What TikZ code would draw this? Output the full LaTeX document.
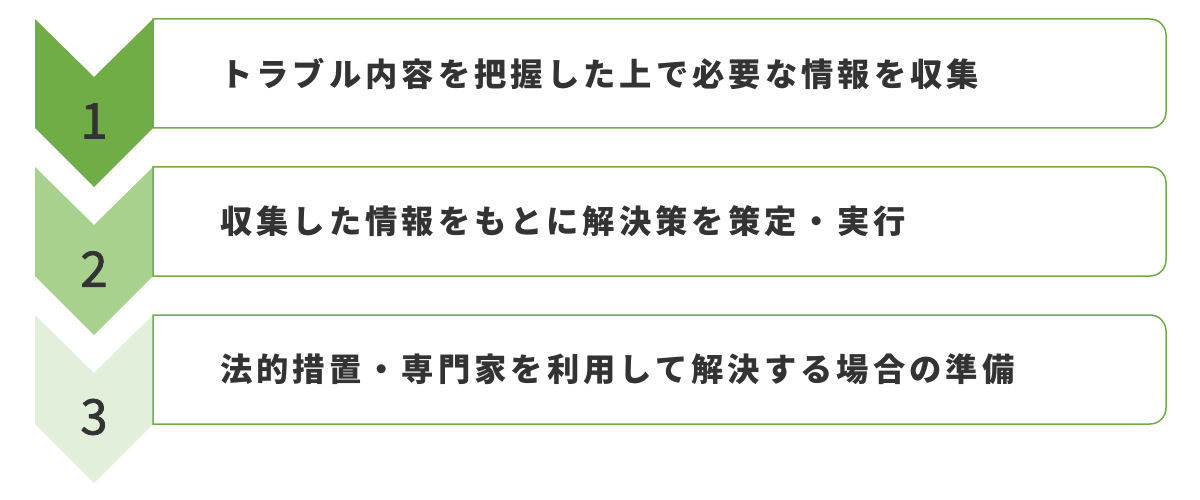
\documentclass[tikz,border=0pt]{standalone}
\usepackage{fontspec}
\newfontfamily\jp{Noto Sans CJK JP}[LetterSpace=12.5]
\newfontfamily\jpnum{Noto Sans CJK JP}[FakeBold=1.5]
\definecolor{gA}{HTML}{70AD47}
\definecolor{gB}{HTML}{A9D18E}
\definecolor{gC}{HTML}{E2EFDA}
\definecolor{txt}{HTML}{333333}
\tikzset{
  boxnode/.style={anchor=north west, minimum width=1013pt, minimum height=109pt, inner sep=0pt, outer sep=0pt},
  boxline/.style={draw=gA, line width=1.5pt},
  label/.style={anchor=west, inner sep=0pt, text=txt, font=\jp\bfseries\fontsize{32.3pt}{36pt}\selectfont},
  num/.style={inner sep=0pt, text=txt, font=\jpnum\fontsize{49pt}{52pt}\selectfont}
}
\begin{document}
\begin{tikzpicture}[x=1pt,y=1pt]
\useasboundingbox (0,0) rectangle (1200,-500);
\foreach \i/\c/\t in {0/gA/{トラブル内容を把握した上で必要な情報を収集},1/gB/{収集した情報をもとに解決策を策定・実行},2/gC/{法的措置・専門家を利用して解決する場合の準備}}{
  \pgfmathsetmacro{\yy}{-19-148*\i}
  \fill[\c] (35,\yy) -- (94,\yy-58) -- (153,\yy) -- (153,\yy-109) -- (94,\yy-168) -- (35,\yy-109) -- cycle;
  \node[num] (n\i) at (94,\yy-102) {\the\numexpr\i+1\relax};
  \node[boxnode] (b\i) at (153,\yy) {};
  \draw[boxline] (b\i.north west) -- ([xshift=-16pt]b\i.north east) arc[start angle=90,end angle=0,radius=16pt]
     -- ([yshift=16pt]b\i.south east) arc[start angle=0,end angle=-90,radius=16pt] -- (b\i.south west) -- cycle;
  \node[label] (t\i) at (220,\yy-54.5) {\t};
}
\end{tikzpicture}
\end{document}
